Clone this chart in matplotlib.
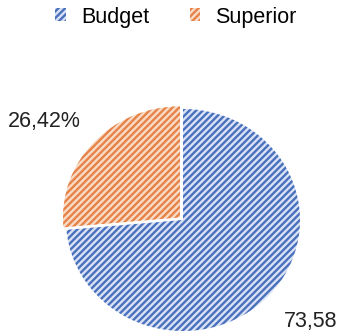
import matplotlib.pyplot as plt
import matplotlib as mpl
from matplotlib.patches import Patch

labels = ['Budget', 'Superior']
values = [73.58, 26.42]
colors = ['#4a70bd', '#e5834a']
light = ['#d9e3f5', '#fadcc6']
value_text = ['73,58', '26,42%']

mpl.rcParams['hatch.linewidth'] = 1.7
mpl.rcParams['font.family'] = ['Liberation Sans', 'DejaVu Sans']

fig = plt.figure(figsize=(3.41, 3.35), dpi=100)
# pie is slightly wider than tall in the reference
ax = fig.add_axes([66 / 341, 4 / 335, 234 / 341, 222 / 335])

wedges, _ = ax.pie(values, startangle=90, counterclock=False,
                   explode=[0, 0.035], radius=1, frame=False)
for w, c, lc in zip(wedges, colors, light):
    w.set_facecolor(lc)
    w.set_edgecolor(c)
    w.set_hatch('/////')
    w.set_linewidth(0)
    w.set_clip_on(False)

ax.set_xlim(-1, 1)
ax.set_ylim(-1, 1)
ax.set_aspect('auto')
ax.axis('off')

fig.text(44 / 341, 1 - 121 / 335, value_text[1], fontsize=15.5,
         ha='center', va='center', color='#222222')
fig.text(311 / 341, 1 - 321 / 335, value_text[0], fontsize=15.5,
         ha='center', va='center', color='#222222')

handles = [Patch(facecolor=lc, edgecolor=c, hatch='/////', linewidth=0)
           for c, lc in zip(colors, light)]
fig.legend(handles, labels, loc='center', bbox_to_anchor=(176 / 341, 1 - 17 / 335),
           ncol=2, frameon=False, fontsize=15.5, handlelength=0.48,
           handleheight=0.55, columnspacing=1.9, handletextpad=0.7)

fig.savefig('out.png', dpi=100)
